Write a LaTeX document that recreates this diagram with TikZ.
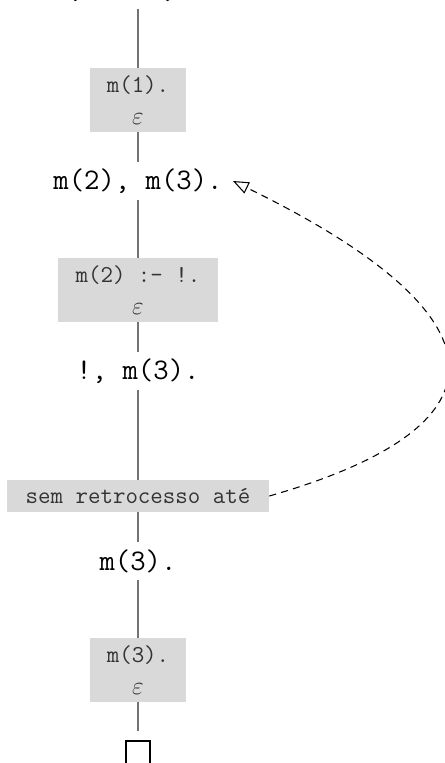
\documentclass[tikz,border=0pt]{standalone}
\usepackage{amsmath,amssymb}
\usepackage{xcolor}
\usepackage{tikz}
\usetikzlibrary{arrows.meta,positioning,calc}

\begin{document}
\begin{tikzpicture}[
  goal/.style={font=\fontsize{17}{20}\selectfont\ttfamily,inner xsep=.2cm,inner ysep=0pt,minimum height=.76cm},
  clause/.style={fill=black!15,text=black!80,font=\fontsize{13.8}{18}\selectfont\ttfamily,align=center,inner sep=0pt,minimum height=1.28cm},
  branch/.style={draw=black!55,line width=1pt},
  backjump/.style={line width=.6pt,dash pattern=on 4pt off 3pt,-{Triangle[open,length=9pt,width=7pt]}}]
\useasboundingbox (0,0) rectangle (8.9,-15.26);
\node[goal] (g1) at (2.76,.21) {m(1), m(2), m(3).};
\node[clause,minimum width=1.92cm] (c1) at (2.76,-2) {m(1).\\$\varepsilon$};
\node[goal] (g2) at (2.76,-3.62) {m(2), m(3).};
\node[clause,minimum width=3.2cm] (c2) at (2.76,-5.8) {m(2) :- !.\\$\varepsilon$};
\node[goal] (g3) at (2.76,-7.42) {!, m(3).};
\node[clause,minimum width=5.24cm,minimum height=.64cm] (stop) at (2.76,-9.92) {sem retrocesso até};
\node[goal] (g4) at (2.76,-11.22) {m(3).};
\node[clause,minimum width=1.92cm] (c3) at (2.76,-13.4) {m(3).\\$\varepsilon$};
\node[draw=black,line width=.6pt,minimum size=.48cm,inner sep=0pt,outer sep=.2cm] (done) at (2.76,-15.06) {};
\draw[branch] (g1)--(c1);
\draw[branch] (c1)--(g2);
\draw[branch] (g2)--(c2);
\draw[branch] (c2)--(g3);
\draw[branch] (g3)--(stop);
\draw[branch] (stop)--(g4);
\draw[branch] (g4)--(c3);
\draw[branch] (c3)--(done);
\draw[backjump] (stop.east) to[out=16,in=-26,out looseness=2.1,in looseness=2.45] (g2.east);
\end{tikzpicture}
\end{document}
